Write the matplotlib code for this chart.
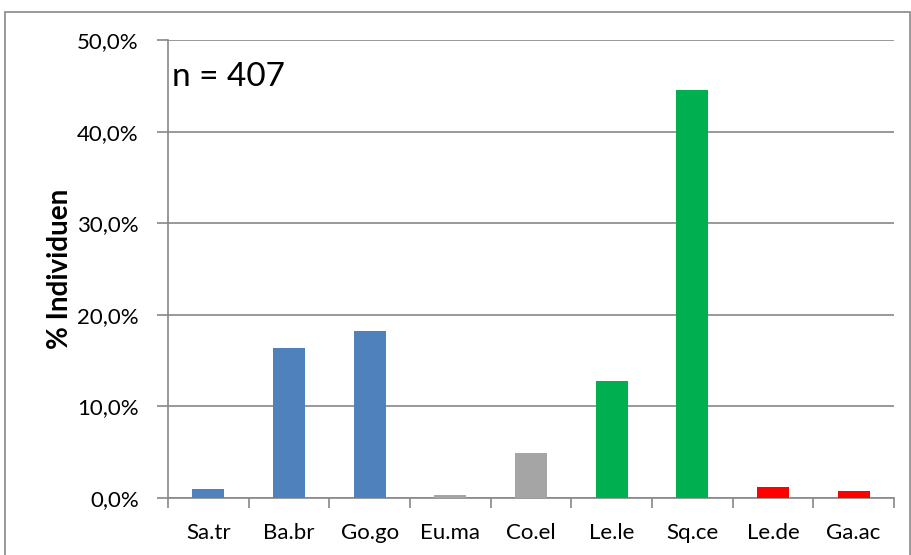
import matplotlib.pyplot as plt
from matplotlib.patches import Rectangle
from matplotlib.ticker import FuncFormatter

species = ['Sa.tr', 'Ba.br', 'Go.go', 'Eu.ma', 'Co.el', 'Le.le', 'Sq.ce', 'Le.de', 'Ga.ac']
percent = [1.0, 16.4, 18.2, 0.3, 4.9, 12.8, 44.5, 1.2, 0.75]
colors = ['#4F81BD', '#4F81BD', '#4F81BD', '#A5A5A5', '#A5A5A5',
          '#00B050', '#00B050', '#FF0000', '#FF0000']

plt.rcParams['font.family'] = ['Lato', 'DejaVu Sans']
grid_col = '#888888'

fig = plt.figure(figsize=(9.12, 5.55), dpi=100)
ax = fig.add_axes([168/912, 1 - 498/555, (894 - 168)/912, (498 - 40)/555])

# outer chart frame
fig.patches.append(Rectangle((5/912, -0.05), 905/912, 1.05 - 12/555,
                             transform=fig.transFigure, fill=False,
                             edgecolor='#888888', linewidth=1.2))

x = range(len(species))
ax.bar(x, percent, width=0.4, color=colors, zorder=3)

ax.set_xlim(-0.5, len(species) - 0.5)
ax.set_ylim(0, 50)
ax.set_yticks([0, 10, 20, 30, 40, 50])
ax.yaxis.set_major_formatter(FuncFormatter(lambda v, p: f'{v:.1f}%'.replace('.', ',')))
ax.set_xticks(x)
ax.set_xticklabels(species)
ax.set_xticks([i - 0.5 for i in range(len(species) + 1)], minor=True)
ax.tick_params(axis='x', which='major', length=0, pad=18, labelsize=16)
ax.tick_params(axis='x', which='minor', length=7, color=grid_col, width=1.2)
ax.tick_params(axis='y', length=8, color=grid_col, width=1.2, labelsize=16, pad=13)

ax.grid(axis='y', color=grid_col, linewidth=1.2, zorder=0)
ax.set_axisbelow(True)
for s in ['top', 'right']:
    ax.spines[s].set_visible(False)
for s in ['left', 'bottom']:
    ax.spines[s].set_color(grid_col)
    ax.spines[s].set_linewidth(1.2)

ax.set_ylabel('% Individuen', fontsize=20, fontweight='bold', labelpad=3)
ax.text(0.005, 0.92, 'n = 407', transform=ax.transAxes, fontsize=24,
        va='center', ha='left')

plt.savefig('out.png', dpi=100)
